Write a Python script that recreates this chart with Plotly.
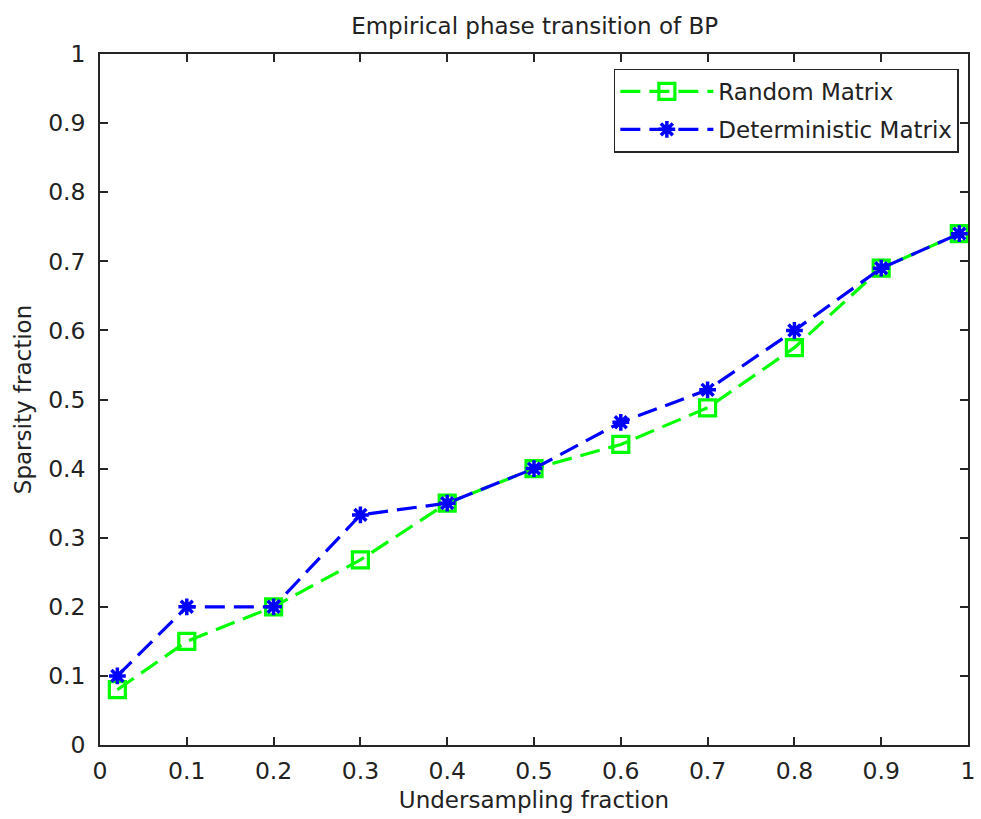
import plotly.graph_objects as go

# Undersampling fraction (delta) and recovered sparsity fraction (rho)
undersampling = [0.02, 0.1, 0.2, 0.3, 0.4, 0.5, 0.6, 0.7, 0.8, 0.9, 0.99]
random_matrix = [0.08, 0.15, 0.20, 0.268, 0.35, 0.40, 0.435, 0.488, 0.575, 0.69, 0.74]
deterministic_matrix = [0.10, 0.20, 0.20, 0.333, 0.35, 0.40, 0.467, 0.514, 0.60, 0.69, 0.74]

tick_vals = [0, 0.1, 0.2, 0.3, 0.4, 0.5, 0.6, 0.7, 0.8, 0.9, 1]
tick_text = ["0", "0.1", "0.2", "0.3", "0.4", "0.5", "0.6", "0.7", "0.8", "0.9", "1"]

FONT = "DejaVu Sans, Liberation Sans, sans-serif"
TEXT_COLOR = "#222222"
AXIS_COLOR = "#262626"
FS = 23
TICK_FS = 23.5

fig = go.Figure()
fig.add_trace(go.Scatter(
    x=undersampling, y=random_matrix, name="Random Matrix",
    legendgroup="random", mode="lines+markers",
    line=dict(color="#00ff00", width=3.2, dash="20px,9px"),
    marker=dict(symbol="square-open", size=16, color="#00ff00",
                line=dict(color="#00ff00", width=3.2)),
))
fig.add_trace(go.Scatter(
    x=undersampling, y=deterministic_matrix, name="Deterministic Matrix",
    legendgroup="deterministic", mode="lines+markers",
    line=dict(color="#0000ff", width=3.2, dash="20px,9px"),
    marker=dict(symbol="asterisk-open", size=14, color="#0000ff",
                line=dict(color="#0000ff", width=3.5)),
))

axis_common = dict(
    range=[0, 1], tickvals=tick_vals, ticktext=tick_text,
    showgrid=False, zeroline=False,
    showline=True, linecolor=AXIS_COLOR, linewidth=1.5, mirror="ticks",
    ticks="inside", ticklen=8, tickwidth=1.5, tickcolor=AXIS_COLOR,
    tickfont=dict(family=FONT, size=TICK_FS, color=TEXT_COLOR),
)

fig.update_layout(
    width=981, height=819,
    margin=dict(l=100, r=6, t=54, b=74),
    paper_bgcolor="white", plot_bgcolor="white",
    title=dict(text="Empirical phase transition of BP", x=0.545, xanchor="center",
               y=0.968, yanchor="middle",
               font=dict(family=FONT, size=FS, color=TEXT_COLOR)),
    xaxis=dict(**axis_common, ticklabelstandoff=4,
               title=dict(text="Undersampling fraction", standoff=8,
                          font=dict(family=FONT, size=FS, color=TEXT_COLOR))),
    yaxis=dict(**axis_common, ticklabelstandoff=8,
               title=dict(text="Sparsity fraction", standoff=10,
                          font=dict(family=FONT, size=FS, color=TEXT_COLOR))),
    legend=dict(x=0.592, y=0.979, xanchor="left", yanchor="top",
                bgcolor="white", bordercolor=AXIS_COLOR, borderwidth=1.5,
                font=dict(family=FONT, size=FS, color=TEXT_COLOR),
                itemwidth=93, entrywidth=340, entrywidthmode="pixels",
                traceorder="grouped", tracegroupgap=5),
    showlegend=True,
)

fig.write_html("out.html")
